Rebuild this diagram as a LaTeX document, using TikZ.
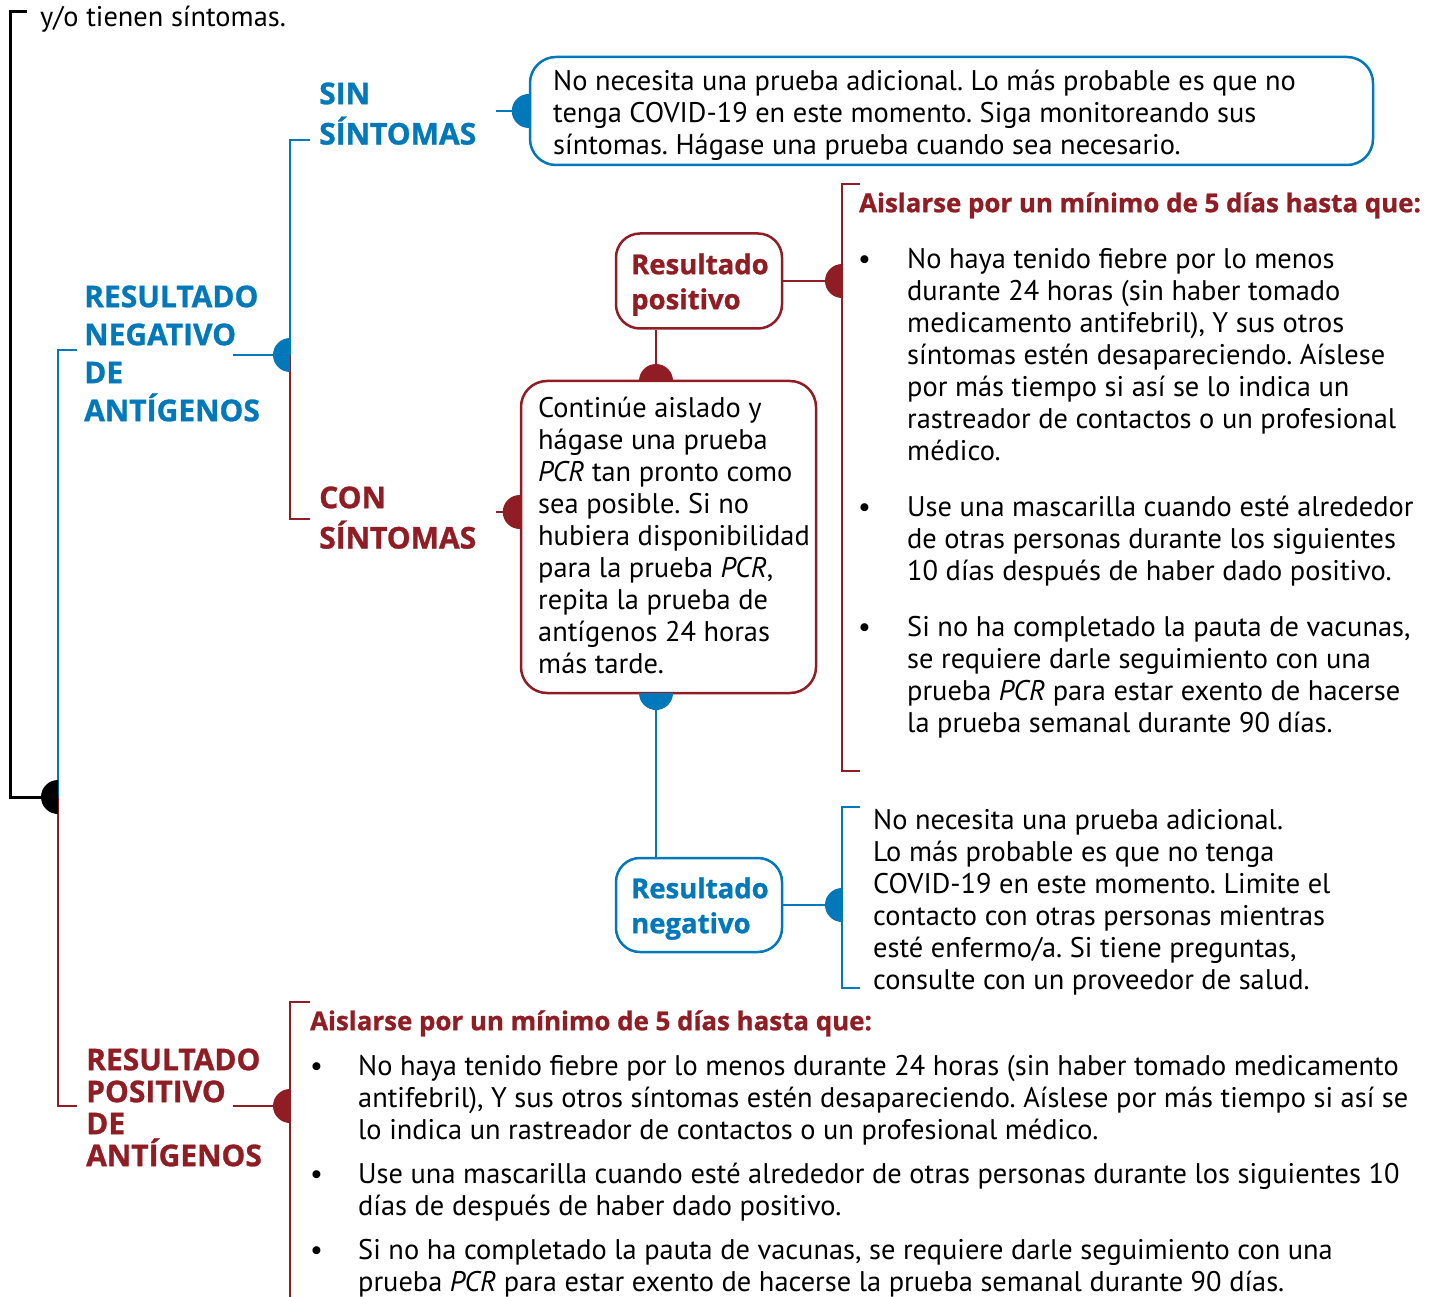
\documentclass[tikz,border=0pt]{standalone}
\usepackage{fontspec}
\setmainfont{PT Sans}
\newfontfamily\headfont{Open Sans}[BoldFeatures={FakeBold=1}]
\usetikzlibrary{positioning}
\frenchspacing

\definecolor{negblue}{RGB}{0,120,185}
\definecolor{posred}{RGB}{145,29,36}

\newcommand{\halfdot}[3]{%
    \fill[#1] (#2) ++(#3:17pt) arc[start angle=#3,delta angle=180,radius=17pt] -- cycle;}

\tikzset{
    body/.style={
        anchor=north west,inner sep=0pt,align=flush left,text width=#1,
        font=\fontsize{28.4}{32}\selectfont,
        execute at begin node=\strut
    },
    body/.default=520pt,
    bodybold/.style={body=620pt,font=\headfont\fontsize{25.9}{32}\selectfont\bfseries},
    heading/.style={
        anchor=north west,inner sep=0pt,align=flush left,text width=#1,
        font=\headfont\fontsize{30}{38}\selectfont\bfseries,
        execute at begin node=\strut
    },
    heading/.default=200pt,
    label/.style={heading=150pt,font=\headfont\fontsize{27.5}{35}\selectfont\bfseries},
    bluebox/.style={draw=negblue,line width=2.5pt,rounded corners=26pt},
    redbox/.style={draw=posred,line width=2.5pt,rounded corners=26pt},
    blueline/.style={negblue,line width=2.5pt},
    redline/.style={posred,line width=2.5pt},
    blackline/.style={black,line width=3pt}
}

\begin{document}
\begin{tikzpicture}[x=1pt,y=-1pt]
    \useasboundingbox (0,0) rectangle (1441,1297);
    \clip (0,0) rectangle (1441,1297);

    \coordinate (root) at (58,797);
    \coordinate (topHook) at (27,12);
    \coordinate (negStub) at (77,350);
    \coordinate (posStub) at (77,1106);
    \coordinate (negHook) at (233,355);
    \coordinate (negDot) at (290,355);
    \coordinate (sinStub) at (310,140);
    \coordinate (conStub) at (310,519);
    \coordinate (sinHook) at (496,111);
    \coordinate (conHook) at (496,512);
    \coordinate (upDot) at (656,381);
    \coordinate (downDot) at (656,693);
    \coordinate (posDot) at (842,281);
    \coordinate (redTop) at (860,184);
    \coordinate (redBot) at (860,771);
    \coordinate (negDotB) at (842,905);
    \coordinate (blueTop) at (860,807);
    \coordinate (blueBot) at (860,988);
    \coordinate (posHook) at (233,1106);
    \coordinate (posDotB) at (290,1106);
    \coordinate (redTopB) at (310,1002);

    \node[bluebox,minimum width=843pt,minimum height=108pt] (noTestA) at (951.5,111) {};
    \node[redbox,minimum width=295pt,minimum height=312pt] (pcrBox) at (668.5,537) {};
    \node[redbox,minimum width=166pt,minimum height=95pt,rounded corners=24pt] (posBox) at (699,281) {};
    \node[bluebox,minimum width=166pt,minimum height=94pt,rounded corners=24pt] (negBox) at (699,905) {};

    \draw[blackline] (topHook) -- ++(-17,0) |- (root);
    \draw[blueline] (negStub) -| (root);
    \draw[redline] (root) |- (posStub);
    \draw[blueline] (negHook) -- (negDot);
    \draw[blueline] (negDot) |- (sinStub);
    \draw[redline] (negDot) |- (conStub);
    \draw[blueline] (sinHook) -- (noTestA.west);
    \draw[redline] (conHook) -- (conHook -| pcrBox.west);
    \draw[redline] (upDot) -- (upDot |- posBox.south);
    \draw[redline] (posBox.east) -- (posDot);
    \draw[redline] (redTop) -- ++(-18,0) |- (redBot);
    \draw[blueline] (downDot) -- (downDot |- negBox.north);
    \draw[blueline] (negBox.east) -- (negDotB);
    \draw[blueline] (blueTop) -- ++(-18,0) |- (blueBot);
    \draw[redline] (posHook) -- (posDotB);
    \draw[redline] (redTopB) -- ++(-20,0) -- ++(0,320);

    \halfdot{black}{root}{90}
    \halfdot{negblue}{negDot}{90}
    \halfdot{negblue}{noTestA.west}{90}
    \halfdot{posred}{conHook -| pcrBox.west}{90}
    \halfdot{posred}{upDot}{0}
    \halfdot{posred}{posDot}{90}
    \halfdot{negblue}{downDot}{180}
    \halfdot{negblue}{negDotB}{90}
    \halfdot{posred}{posDotB}{90}

    \node[body=400pt] (topLine) at (40,3.6) {y/o tienen síntomas.};
    \node[heading,negblue] (negHead) at (84,280.4) {RESULTADO\\NEGATIVO\\DE\\ANTÍGENOS};
    \node[heading,posred,font=\headfont\fontsize{30}{32}\selectfont\bfseries] (posHead) at (86,1047.6)
        {RESULTADO\\POSITIVO\\DE\\ANTÍGENOS};
    \node[heading,negblue] (sinHead) at (319,77.4) {SIN\\SÍNTOMAS};
    \node[heading,posred] (conHead) at (319,481.4) {CON\\SÍNTOMAS};
    \node[label,posred] (posLbl) at (631,249.5) {Resultado\\positivo};
    \node[label,negblue] (negLbl) at (631,873.5) {Resultado\\negativo};

    \node[body=820pt] (noTestTxt) at (553,67.6) {No necesita una prueba adicional. Lo más probable es que no\\
        tenga COVID-19 en este momento. Siga monitoreando sus\\
        síntomas. Hágase una prueba cuando sea necesario.};
    \node[body=290pt] (pcrTxt) at (538,394.6) {Continúe aislado y\\hágase una prueba\\
        \textit{PCR} tan pronto como\\sea posible. Si no\\hubiera disponibilidad\\
        para la prueba \textit{PCR},\\repita la prueba de\\antígenos 24 horas\\más tarde.};

    \node[bodybold,posred] (isoTitleA) at (859,189.6) {Aislarse por un mínimo de 5 días hasta que:};
    \foreach \y [count=\i] in {245.6,493.6,613.6}
        \node[body=30pt] (dotA\i) at (858,\y) {\textbullet};
    \node[body] (itemA1) at (907,245.6) {No haya tenido fiebre por lo menos\\
        durante 24 horas (sin haber tomado\\medicamento antifebril), Y sus otros\\
        síntomas estén desapareciendo. Aíslese\\por más tiempo si así se lo indica un\\
        rastreador de contactos o un profesional\\médico.};
    \node[body] (itemA2) at (907,493.6) {Use una mascarilla cuando esté alrededor\\
        de otras personas durante los siguientes\\10 días después de haber dado positivo.};
    \node[body] (itemA3) at (907,613.6) {Si no ha completado la pauta de vacunas,\\
        se requiere darle seguimiento con una\\
        prueba \textit{PCR} para estar exento de hacerse\\la prueba semanal durante 90 días.};

    \node[body=500pt] (negTxt) at (873,806.6) {No necesita una prueba adicional.\\
        Lo más probable es que no tenga\\COVID-19 en este momento. Limite el\\
        contacto con otras personas mientras\\esté enfermo/a. Si tiene preguntas,\\
        consulte con un proveedor de salud.};

    \node[bodybold,posred] (isoTitleB) at (310,1007.6) {Aislarse por un mínimo de 5 días hasta que:};
    \foreach \y [count=\i] in {1052.6,1160.6,1236.6}
        \node[body=30pt] (dotB\i) at (310,\y) {\textbullet};
    \node[body=1080pt] (itemB1) at (358,1052.6) {No haya tenido fiebre por lo menos durante 24 horas (sin haber tomado medicamento\\
        antifebril), Y sus otros síntomas estén desapareciendo. Aíslese por más tiempo si así se\\
        lo indica un rastreador de contactos o un profesional médico.};
    \node[body=1080pt] (itemB2) at (358,1160.6) {Use una mascarilla cuando esté alrededor de otras personas durante los siguientes 10\\
        días de después de haber dado positivo.};
    \node[body=1080pt] (itemB3) at (358,1236.6) {Si no ha completado la pauta de vacunas, se requiere darle seguimiento con una\\
        prueba \textit{PCR} para estar exento de hacerse la prueba semanal durante 90 días.};
\end{tikzpicture}
\end{document}
